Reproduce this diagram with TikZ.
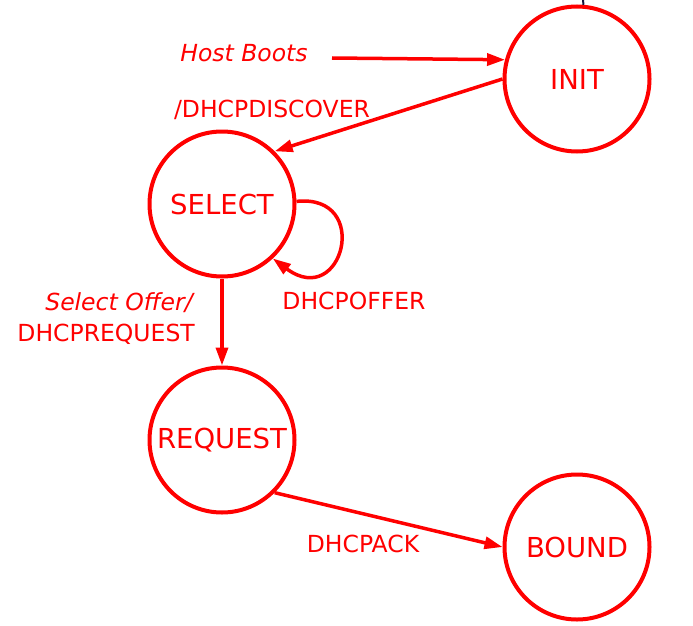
\documentclass[tikz,border=0pt]{standalone}
\usepackage{fontspec}
\setmainfont{DejaVu Sans}
\usetikzlibrary{arrows.meta}
\definecolor{dhcpred}{RGB}{255,0,0}
\definecolor{tickdark}{RGB}{20,20,60}
\tikzset{
  stnode/.style={circle, draw=dhcpred, line width=4pt, minimum size=145pt, inner sep=0pt, text=dhcpred, font=\fontsize{27.5}{32}\selectfont},
  trans/.style={draw=dhcpred, line width=3.5pt, -{Triangle[length=18pt,width=12pt]}},
  lbl/.style={text=dhcpred, inner sep=0pt, font=\fontsize{23.5}{28}\selectfont},
}

\begin{document}
\begin{tikzpicture}[x=1pt, y=-1pt]
        \useasboundingbox (0,0) rectangle (693,626);

        % States
        \node[stnode] (INIT) at (577,79) {INIT};
        \node[stnode] (SELECT) at (222,204) {SELECT};
        \node[stnode] (REQUEST) at (222,440) {REQUEST};
        \node[stnode] (BOUND) at (577,547) {BOUND};

        % Transitions
        \coordinate (boot) at (332,58);
        \coordinate (top) at (583,0);
        \draw[tickdark, line width=2pt] (top) -- (INIT.85);
        \draw[trans] (boot) -- (INIT.165);
        \draw[trans] (INIT.180) -- (SELECT.45);
        \draw[trans] (SELECT.2) .. controls +(76,-8) and +(70,52) .. (SELECT.-47);
        \draw[trans] (SELECT.south) -- (REQUEST.north);
        \draw[trans] (REQUEST.-45) -- (BOUND.west);

        % Labels
        \node[lbl, anchor=base] (bootlbl) at (244,62) {\itshape Host Boots};
        \node[lbl, anchor=base] (disclbl) at (272,117) {/DHCPDISCOVER};
        \node[lbl, anchor=base] (offerlbl) at (354,309) {DHCPOFFER};
        \node[lbl, anchor=base east] (sellbl) at (193,310) {\itshape Select Offer/};
        \node[lbl, anchor=base east] (reqlbl) at (195,341) {DHCPREQUEST};
        \node[lbl, anchor=base] (acklbl) at (363,552) {DHCPACK};
    \end{tikzpicture}
\end{document}
